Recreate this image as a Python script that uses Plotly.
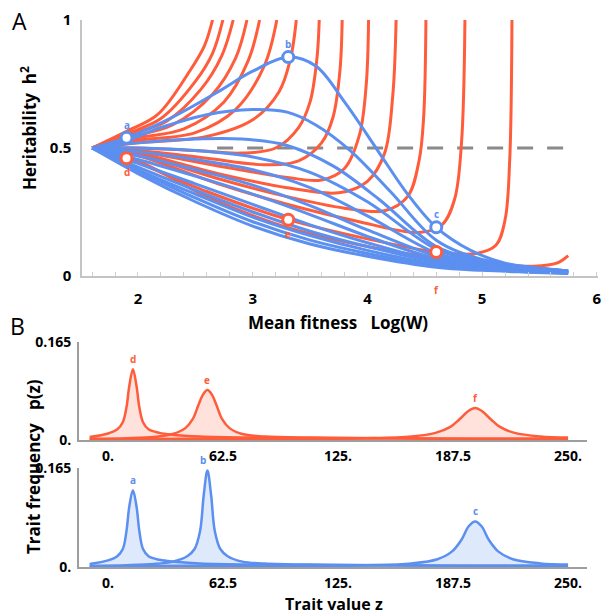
import plotly.graph_objects as go

ORANGE = '#ff5c3b'
BLUE = '#5b8ff0'
ORANGE_FILL = 'rgba(255,92,59,0.18)'
BLUE_FILL = 'rgba(91,143,240,0.2)'
FONT = 'Open Sans'

# ---- panel A: heritability vs log mean fitness ----
orange_x = [
    [1.6, 1.9, 2.17, 2.45, 2.58, 2.65],
    [1.6, 1.9, 2.2, 2.5, 2.65, 2.74],
    [1.6, 1.9, 2.25, 2.55, 2.73, 2.83],
    [1.6, 1.9, 2.3, 2.65, 2.85, 2.95],
    [1.6, 2.0, 2.4, 2.75, 2.96, 3.06],
    [1.6, 2.0, 2.5, 2.85, 3.1, 3.21],
    [1.6, 2.0, 2.6, 3.0, 3.23, 3.33, 3.38],
    [1.6, 2.0, 2.5, 2.9, 3.2, 3.4, 3.5, 3.56, 3.58],
    [1.6, 2.0, 2.6, 3.1, 3.4, 3.6, 3.7, 3.76, 3.78],
    [1.6, 2.0, 2.7, 3.3, 3.6, 3.8, 3.93, 3.99, 4.01],
    [1.6, 2.0, 2.7, 3.3, 3.75, 4.0, 4.15, 4.22, 4.25],
    [1.6, 2.0, 2.7, 3.3, 3.8, 4.15, 4.35, 4.45, 4.49, 4.51],
    [1.6, 2.0, 2.7, 3.3, 3.9, 4.45, 4.65, 4.76, 4.82, 4.85],
    [1.6, 1.9, 2.6, 3.31, 4.0, 4.6, 4.95, 5.12, 5.2, 5.24, 5.26],
    [1.6, 2.0, 2.6, 3.3, 4.0, 4.6, 5.1, 5.45, 5.65, 5.75],
]
orange_y = [
    [0.5, 0.565, 0.63, 0.8, 0.9, 1.0],
    [0.5, 0.555, 0.615, 0.76, 0.87, 1.0],
    [0.5, 0.55, 0.605, 0.73, 0.86, 1.0],
    [0.5, 0.54, 0.59, 0.71, 0.85, 1.0],
    [0.5, 0.54, 0.575, 0.68, 0.84, 1.0],
    [0.5, 0.53, 0.56, 0.65, 0.82, 1.0],
    [0.5, 0.52, 0.545, 0.61, 0.72, 0.85, 1.0],
    [0.5, 0.5, 0.49, 0.48, 0.5, 0.58, 0.68, 0.85, 1.0],
    [0.5, 0.49, 0.46, 0.435, 0.45, 0.52, 0.62, 0.8, 1.0],
    [0.5, 0.485, 0.43, 0.385, 0.375, 0.42, 0.55, 0.75, 1.0],
    [0.5, 0.48, 0.4, 0.345, 0.325, 0.37, 0.48, 0.7, 1.0],
    [0.5, 0.475, 0.38, 0.31, 0.265, 0.255, 0.31, 0.45, 0.62, 1.0],
    [0.5, 0.47, 0.36, 0.28, 0.215, 0.17, 0.2, 0.3, 0.52, 1.0],
    [0.5, 0.46, 0.33, 0.22, 0.145, 0.094, 0.088, 0.12, 0.22, 0.45, 1.0],
    [0.5, 0.45, 0.31, 0.19, 0.115, 0.07, 0.045, 0.038, 0.05, 0.08],
]

blue_x = [
    [1.6, 1.9, 2.3, 2.7, 3.0, 3.31, 3.55, 3.8, 4.09, 4.35, 4.6, 4.9, 5.2, 5.5, 5.75],
    [1.6, 1.9, 2.2, 2.6, 3.0, 3.3, 3.55, 3.85, 4.2, 4.6, 5.0, 5.4, 5.75],
    [1.6, 2.0, 2.5, 2.9, 3.3, 3.7, 4.1, 4.6, 5.0, 5.4, 5.75],
] + [[1.6, 2.0, 2.5, 3.0, 3.5, 4.0, 4.6, 5.0, 5.4, 5.75]] * 9
blue_y = [
    [0.5, 0.54, 0.62, 0.72, 0.8, 0.855, 0.82, 0.68, 0.49, 0.32, 0.19, 0.1, 0.05, 0.03, 0.02],
    [0.5, 0.53, 0.58, 0.63, 0.65, 0.64, 0.59, 0.49, 0.33, 0.14, 0.065, 0.035, 0.02],
    [0.5, 0.52, 0.535, 0.535, 0.51, 0.43, 0.3, 0.115, 0.06, 0.032, 0.02],
    [0.5, 0.5, 0.49, 0.465, 0.405, 0.29, 0.105, 0.055, 0.032, 0.02],
    [0.5, 0.485, 0.455, 0.415, 0.345, 0.235, 0.09, 0.05, 0.03, 0.018],
    [0.5, 0.47, 0.415, 0.355, 0.275, 0.18, 0.078, 0.045, 0.028, 0.016],
    [0.5, 0.455, 0.39, 0.32, 0.24, 0.155, 0.068, 0.04, 0.027, 0.015],
    [0.5, 0.44, 0.36, 0.28, 0.2, 0.13, 0.06, 0.037, 0.025, 0.014],
    [0.5, 0.425, 0.335, 0.25, 0.175, 0.115, 0.055, 0.033, 0.022, 0.013],
    [0.5, 0.415, 0.32, 0.23, 0.158, 0.1, 0.047, 0.029, 0.019, 0.012],
    [0.5, 0.41, 0.305, 0.212, 0.14, 0.088, 0.04, 0.025, 0.017, 0.011],
    [0.5, 0.4, 0.29, 0.195, 0.125, 0.077, 0.034, 0.022, 0.015, 0.01],
]

dash_x = [2.69, 5.76]
dash_y = [0.5, 0.5]

blue_pts_x = [1.9, 3.31, 4.6]
blue_pts_y = [0.54, 0.855, 0.19]
blue_pts_lbl = ['a', 'b', 'c']
orange_pts_x = [1.9, 3.31, 4.6]
orange_pts_y = [0.46, 0.22, 0.094]
orange_pts_lbl = ['d', 'e', 'f']

# ---- panel B: trait distributions ----
d_x = [-10, 0, 5, 8, 10, 11.5, 13.5, 15.5, 17, 19, 22, 28, 35, 50, 80, 120, 160, 200, 250]
d_y = [0.005, 0.011, 0.018, 0.03, 0.055, 0.09, 0.119, 0.09, 0.055, 0.03, 0.018, 0.012,
       0.009, 0.006, 0.004, 0.003, 0.003, 0.002, 0.002]
e_x = [-10, 10, 25, 35, 42, 46, 49, 51.5, 54, 56.5, 59, 62, 66, 73, 85, 110, 150, 200, 250]
e_y = [0.002, 0.003, 0.005, 0.01, 0.02, 0.035, 0.058, 0.076, 0.084, 0.076, 0.058, 0.035,
       0.02, 0.01, 0.006, 0.004, 0.003, 0.002, 0.002]
f_x = [-10, 50, 100, 140, 165, 178, 186, 191, 195.5, 199.5, 203.5, 208, 213, 221, 235, 250]
f_y = [0.001, 0.002, 0.002, 0.003, 0.006, 0.012, 0.022, 0.035, 0.048, 0.054, 0.048, 0.035,
       0.022, 0.012, 0.006, 0.004]
a_x = [-10, 0, 5, 8, 10, 11.5, 13.5, 15.5, 17, 19, 22, 28, 35, 50, 80, 120, 160, 200, 250]
a_y = [0.005, 0.011, 0.018, 0.03, 0.06, 0.1, 0.128, 0.1, 0.06, 0.03, 0.018, 0.012,
       0.009, 0.006, 0.004, 0.003, 0.003, 0.002, 0.002]
b_x = [-10, 10, 25, 35, 43, 47, 50, 52, 54, 56, 58, 61, 65, 73, 85, 110, 150, 200, 250]
b_y = [0.002, 0.003, 0.005, 0.009, 0.018, 0.03, 0.06, 0.12, 0.161, 0.12, 0.06, 0.03,
       0.018, 0.009, 0.006, 0.004, 0.003, 0.002, 0.002]
c_x = [-10, 50, 100, 140, 165, 179, 187, 192, 196, 199.5, 203, 207, 212, 220, 235, 250]
c_y = [0.001, 0.002, 0.002, 0.003, 0.006, 0.013, 0.026, 0.045, 0.068, 0.076, 0.068, 0.045,
       0.026, 0.013, 0.006, 0.004]

# page body margin is removed in the html, so page pixels == figure pixels
W, H = 601, 615


def X(p):
    return p / W


def Y(p):
    return 1 - p / H


fig = go.Figure()

fig.add_trace(go.Scatter(x=dash_x, y=dash_y, mode='lines',
                         line=dict(color='#8a8a8a', width=3, dash='16px,14px'),
                         xaxis='x', yaxis='y'))
for xs, ys in zip(orange_x, orange_y):
    fig.add_trace(go.Scatter(x=xs, y=ys, mode='lines', line_shape='spline',
                             line=dict(color=ORANGE, width=3, smoothing=1),
                             xaxis='x', yaxis='y'))
for xs, ys in zip(blue_x, blue_y):
    fig.add_trace(go.Scatter(x=xs, y=ys, mode='lines', line_shape='spline',
                             line=dict(color=BLUE, width=3, smoothing=1),
                             xaxis='x', yaxis='y'))

for px_, py_, col in [(blue_pts_x, blue_pts_y, BLUE), (orange_pts_x, orange_pts_y, ORANGE)]:
    fig.add_trace(go.Scatter(x=px_, y=py_, mode='markers',
                             marker=dict(size=11, color='white', line=dict(color=col, width=3)),
                             xaxis='x', yaxis='y', cliponaxis=False))

ann = []
for x, y, t in zip(blue_pts_x, blue_pts_y, blue_pts_lbl):
    ann.append(dict(x=x, y=y, xref='x', yref='y', text=t, yshift=13,
                    font=dict(color=BLUE, size=10, family=FONT, weight='bold')))
for x, y, t in zip(orange_pts_x, orange_pts_y, orange_pts_lbl):
    ann.append(dict(x=x, y=y, xref='x', yref='y', text=t,
                    yshift=-14 if t != 'f' else -38,
                    font=dict(color=ORANGE, size=10, family=FONT, weight='bold')))

# panel B traces
for xs, ys, lbl in [(d_x, d_y, 'd'), (e_x, e_y, 'e'), (f_x, f_y, 'f')]:
    fig.add_trace(go.Scatter(x=xs, y=ys, mode='lines', line_shape='spline', fill='tozeroy',
                             fillcolor=ORANGE_FILL, line=dict(color=ORANGE, width=2.5),
                             xaxis='x2', yaxis='y2'))
    i = ys.index(max(ys))
    ann.append(dict(x=xs[i], y=ys[i], xref='x2', yref='y2', text=lbl, yshift=10,
                    font=dict(color=ORANGE, size=10, family=FONT, weight='bold')))
for xs, ys, lbl in [(a_x, a_y, 'a'), (b_x, b_y, 'b'), (c_x, c_y, 'c')]:
    fig.add_trace(go.Scatter(x=xs, y=ys, mode='lines', line_shape='spline', fill='tozeroy',
                             fillcolor=BLUE_FILL, line=dict(color=BLUE, width=2.5),
                             xaxis='x3', yaxis='y3', cliponaxis=False))
    i = ys.index(max(ys))
    ann.append(dict(x=xs[i], y=ys[i], xref='x3', yref='y3', text=lbl,
                    yshift=10, xshift=-4 if lbl == 'b' else 0,
                    font=dict(color=BLUE, size=10, family=FONT, weight='bold')))

# texts
txt = dict(family=FONT, size=17, color='black', weight='bold')
ann += [
    dict(x=X(19), y=Y(21), text='A', font=dict(family=FONT, size=23, color='black')),
    dict(x=X(17), y=Y(326), text='B', font=dict(family=FONT, size=23, color='black')),
    dict(x=X(338), y=Y(323), text='Mean fitness   Log(W)', font=txt),
    dict(x=X(334), y=Y(604), text='Trait value z', font=dict(txt, size=16)),
    dict(x=X(28), y=Y(128), text='Heritability  h<sup>2</sup>', textangle=-90, font=txt),
    dict(x=X(33), y=Y(467), text='Trait frequency   p(z)', textangle=-90, font=txt),
]
for a in ann[-6:]:
    a.update(xref='paper', yref='paper')
for a in ann:
    a.update(showarrow=False, xanchor='center', yanchor='middle')

tickf = dict(family=FONT, size=14, color='black', weight='bold')
common = dict(showgrid=False, zeroline=False, automargin=False, showline=True, ticks='')
b_axis_x = dict(domain=[X(79), X(587)], range=[-15.8, 260.3],
                tickvals=[0, 62.5, 125, 187.5, 250],
                ticktext=['0.', '62.5', '125.', '187.5', '250.'], tickfont=tickf,
                linecolor='#9e9e9e', linewidth=2, ticklabelstandoff=2, **common)
b_axis_y = dict(range=[0, 0.165], tickvals=[0, 0.165], ticktext=['0.', '0.165'],
                tickfont=tickf, linecolor='#9e9e9e', linewidth=2, ticklabelstandoff=3,
                **common)

fig.update_layout(
    template='none',
    width=W, height=H, margin=dict(l=0, r=0, t=0, b=0, autoexpand=False),
    paper_bgcolor='white', plot_bgcolor='white', showlegend=False,
    font=dict(family=FONT),
    annotations=ann,
    xaxis=dict(domain=[X(82), X(598)], range=[1.512, 6.01], anchor='y',
               tickvals=[2, 3, 4, 5, 6], linecolor='#c4c4c4', linewidth=1.5,
               tickfont=dict(tickf, size=15), ticklabelstandoff=8, ticklabeloverflow='allow',
               minor=dict(ticks='inside', ticklen=4, tickcolor='#d0d0d0', dtick=0.2, tick0=0,
                          showgrid=False), **common),
    yaxis=dict(domain=[Y(276), Y(20)], range=[0, 1], anchor='x',
               tickvals=[0, 0.5, 1], ticktext=['0', '0.5', '1'], tickfont=dict(tickf, size=15),
               linecolor='#c4c4c4', linewidth=1.5, ticklabelstandoff=6, **common),
    xaxis2=dict(anchor='y2', **b_axis_x),
    yaxis2=dict(domain=[Y(440), Y(342)], anchor='x2', **b_axis_y),
    xaxis3=dict(anchor='y3', **b_axis_x),
    yaxis3=dict(domain=[Y(567), Y(468)], anchor='x3', **b_axis_y),
)

fig.write_html('out.html', config={'displayModeBar': False},
               post_script="document.body.style.margin = '0';")
